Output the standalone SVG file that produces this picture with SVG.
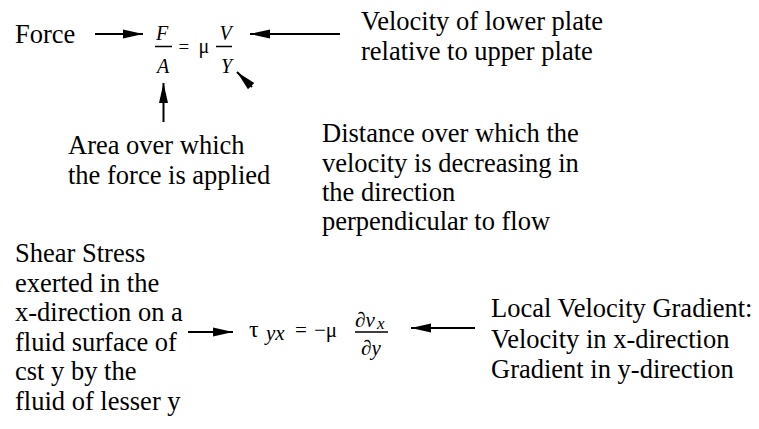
<svg xmlns="http://www.w3.org/2000/svg" width="759" height="429" viewBox="0 0 759 429">
<style>
.t{font-size:26.5px;fill:#000}
.m{fill:#000}
.i{font-style:italic}
.c{stroke:#000;stroke-width:2;fill:none}
.bar{stroke:#000;stroke-width:1.5}
</style>
<defs>
<marker id="ah" markerUnits="userSpaceOnUse" markerWidth="22" markerHeight="12" refX="20" refY="5" orient="auto">
<path d="M0,0.5 L20,5 L0,9.5 z" fill="#000"/>
</marker>
</defs>
<rect width="759" height="429" fill="#fff"/>
<g id="connectors">
<line class="c" x1="95" y1="34" x2="143" y2="34" marker-end="url(#ah)"/>
<line class="c" x1="340" y1="34" x2="250" y2="34" marker-end="url(#ah)"/>
<line class="c" x1="163.5" y1="122" x2="163.5" y2="83" marker-end="url(#ah)"/>
<line class="c" x1="252" y1="87" x2="237" y2="72" marker-end="url(#ah)" stroke-width="0"/>
<line class="c" x1="188" y1="332" x2="233" y2="332" marker-end="url(#ah)"/>
<line class="c" x1="475" y1="328" x2="411" y2="328" marker-end="url(#ah)"/>
</g>
<g font-family="Liberation Serif, Times New Roman, serif">
<g id="force"><text class="t" x="15" y="43">Force</text></g>
<g id="eq1">
<text class="m i" x="162" y="40" font-size="20" text-anchor="middle">F</text>
<line class="bar" x1="155" y1="46.5" x2="172" y2="46.5"/>
<text class="m i" x="163" y="73" font-size="20" text-anchor="middle">A</text>
<text class="m" x="178.5" y="53" font-size="19">=</text>
<text class="m" x="198.5" y="53" font-size="20">μ</text>
<text class="m i" x="225.5" y="40" font-size="20" text-anchor="middle">V</text>
<line class="bar" x1="216" y1="46.5" x2="232" y2="46.5"/>
<text class="m i" x="226.5" y="73" font-size="20" text-anchor="middle">Y</text>
</g>
<g id="velocity">
<text class="t" x="361" y="30">Velocity of lower plate</text>
<text class="t" x="361" y="60">relative to upper plate</text>
</g>
<g id="area">
<text class="t" x="68" y="154">Area over which</text>
<text class="t" x="68" y="184">the force is applied</text>
</g>
<g id="distance">
<text class="t" x="322" y="142">Distance over which the</text>
<text class="t" x="322" y="171.5">velocity is decreasing in</text>
<text class="t" x="322" y="200.5">the direction</text>
<text class="t" x="322" y="229.5">perpendicular to flow</text>
</g>
<g id="shear">
<text class="t" x="15" y="262">Shear Stress</text>
<text class="t" x="15" y="291.5">exerted in the</text>
<text class="t" x="15" y="321">x-direction on a</text>
<text class="t" x="15" y="350.5">fluid surface of</text>
<text class="t" x="15" y="380">cst y by the</text>
<text class="t" x="15" y="409.5">fluid of lesser y</text>
</g>
<g id="eq2">
<text class="m" x="249" y="337" font-size="24">τ</text>
<text class="m i" x="266" y="340" font-size="21">yx</text>
<text class="m" x="295" y="337" font-size="21">=</text>
<text class="m" x="314" y="337" font-size="21">−μ</text>
<text class="m" x="355" y="327" font-size="21">∂<tspan class="i">v</tspan></text>
<text class="m i" x="377" y="329" font-size="17">x</text>
<line class="bar" x1="355" y1="332" x2="388" y2="332"/>
<text class="m" x="361" y="355" font-size="21">∂<tspan class="i">y</tspan></text>
</g>
<g id="gradient">
<text class="t" x="491" y="317">Local Velocity Gradient:</text>
<text class="t" x="491" y="347.5">Velocity in x-direction</text>
<text class="t" x="491" y="378">Gradient in y-direction</text>
</g>
</g>
</svg>
